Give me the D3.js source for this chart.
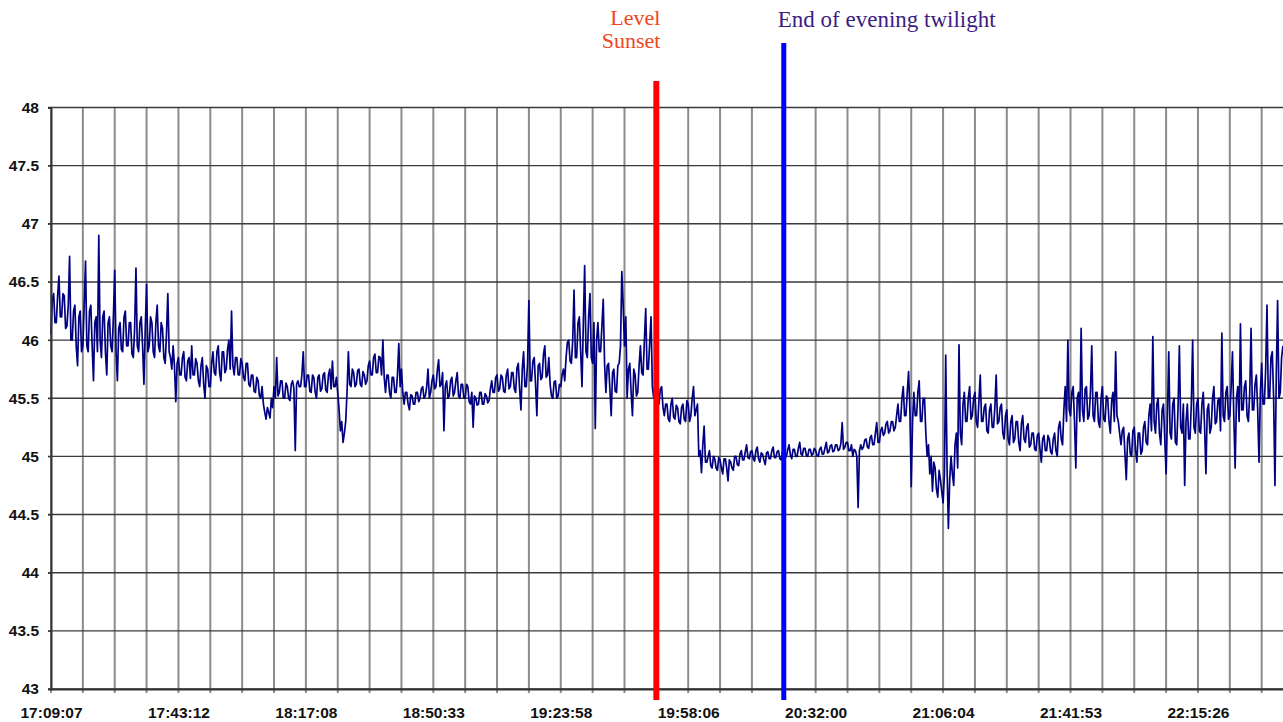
<!DOCTYPE html>
<html>
<head>
<meta charset="utf-8">
<script src="https://cdn.jsdelivr.net/npm/d3@7"></script>
<style>
  html, body { margin: 0; padding: 0; background: #fff; }
  svg { display: block; }
</style>
</head>
<body>
<div id="chart"></div>
<script>
// x-axis category labels, one every 96 samples
const timeLabels = ["17:09:07", "17:43:12", "18:17:08", "18:50:33", "19:23:58",
                    "19:58:06", "20:32:00", "21:06:04", "21:41:53", "22:15:26"];
const yTicks = [43, 43.5, 44, 44.5, 45, 45.5, 46, 46.5, 47, 47.5, 48];

// readings, split by the labelled intervals
const seg1709 = [46.05,46.35,46.4,46.15,46.15,46.38,46.55,46.2,46.2,46.4,46.38,46.1,46.12,46.3,46.72,46.0,
  46.0,46.25,46.3,45.95,45.78,46.2,46.25,45.9,45.95,46.3,46.68,45.95,45.9,46.25,46.3,45.95,
  45.65,46.15,46.2,45.9,46.9,46.0,45.85,46.2,46.25,45.9,45.7,46.15,46.2,45.95,45.9,46.2,
  46.6,45.9,45.65,46.1,46.15,45.92,45.9,46.2,46.25,45.95,45.95,46.15,46.15,45.88,45.85,46.1,
  46.62,45.95,45.9,46.15,46.2,45.95,45.62,46.1,46.48,45.9,45.95,46.2,46.15,45.9,45.85,46.15,
  46.3,45.95,45.9,46.15,46.1,45.85,45.8,46.05,46.4,45.9,45.85,45.75,45.95,45.78,45.47,45.8];
const seg1743 = [45.85,45.7,45.7,45.85,45.9,45.68,45.65,45.82,45.85,45.67,45.95,45.7,45.7,45.84,45.8,45.65,
  45.6,45.78,45.85,45.62,45.5,45.78,45.75,45.6,45.6,45.8,45.9,45.72,45.7,45.9,45.95,45.72,
  45.65,45.9,45.9,45.72,45.75,45.92,46.0,45.75,46.25,45.78,45.7,45.85,45.85,45.7,45.7,45.84,
  45.8,45.68,45.65,45.8,45.8,45.62,45.6,45.7,45.7,45.56,45.55,45.68,45.65,45.52,45.5,45.6,
  45.45,45.38,45.32,45.42,45.38,45.33,45.5,45.42,45.6,45.5,45.85,45.52,45.55,45.65,45.65,45.5,
  45.5,45.63,45.6,45.5,45.48,45.62,45.65,45.58,45.05,45.62,45.65,45.6,45.6,45.7,45.9,45.6];
const seg1817 = [45.6,45.7,45.7,45.56,45.55,45.7,45.68,45.55,45.5,45.68,45.7,45.56,45.58,45.7,45.72,45.57,
  45.55,45.7,45.75,45.58,45.82,45.6,45.6,45.68,45.55,45.4,45.22,45.3,45.12,45.2,45.3,45.55,
  45.9,45.62,45.6,45.75,45.72,45.6,45.62,45.74,45.75,45.62,45.6,45.73,45.7,45.62,45.65,45.78,
  45.82,45.7,45.7,45.85,45.88,45.72,45.72,45.86,45.85,45.7,46.0,45.68,45.55,45.7,45.7,45.55,
  45.5,45.68,45.68,45.55,45.55,45.7,45.97,45.6,45.75,45.55,45.45,45.55,45.55,45.45,45.4,45.53,
  45.52,45.45,45.45,45.55,45.55,45.47,45.5,45.58,45.6,45.5,45.52,45.6,45.75,45.5,45.55,45.65];
const seg1850 = [45.7,45.58,45.6,45.74,45.83,45.6,45.62,45.72,45.22,45.6,45.65,45.5,45.52,45.65,45.68,45.52,
  45.55,45.65,45.72,45.52,45.5,45.62,45.62,45.5,45.5,45.62,45.6,45.47,45.45,45.55,45.25,45.52,
  45.5,45.44,45.45,45.55,45.55,45.45,45.45,45.54,45.52,45.46,45.48,45.58,45.65,45.55,45.55,45.68,
  45.7,45.56,45.58,45.7,45.68,45.56,45.55,45.7,45.75,45.58,45.6,45.72,45.72,45.58,45.55,45.76,
  45.8,45.58,45.4,45.75,45.9,45.6,45.6,45.8,46.34,45.65,45.65,45.82,45.85,45.62,45.35,45.78,
  45.8,45.66,45.68,45.88,45.95,45.68,45.7,45.85,45.62,45.52,45.5,45.64,45.65,45.5,45.52,45.62];
const seg1923 = [45.6,45.7,45.75,45.65,45.85,45.98,46.0,45.82,45.8,46.0,46.43,45.85,45.85,46.15,46.2,45.9,
  45.6,46.15,46.64,45.9,45.85,46.2,46.4,45.85,45.8,46.15,45.24,46.0,46.15,45.9,45.9,46.12,
  46.35,45.8,45.55,45.78,45.8,45.58,45.35,45.72,45.75,45.56,45.55,45.78,45.8,45.95,46.59,46.3,
  45.95,46.2,45.5,45.75,45.8,45.55,45.35,45.75,45.7,45.52,45.55,45.78,45.95,45.72,45.7,46.0,
  46.27,45.75,45.75,45.98,46.2,45.6,45.5,45.62,45.65,45.48,45.45,45.58,45.6,45.42,45.35,45.45,
  45.45,45.32,45.3,45.45,45.5,45.34,45.32,45.44,45.42,45.3,45.28,45.42,45.45,45.32,45.3,45.48];
const seg1958 = [45.45,45.3,45.35,45.5,45.6,45.35,45.4,45.45,45.0,45.05,44.86,45.1,45.26,44.95,44.95,45.0,
  45.05,44.92,44.9,45.0,44.98,44.9,44.88,44.99,44.97,44.9,44.85,44.98,44.98,44.9,44.79,44.97,
  44.95,44.9,44.88,45.0,45.0,44.93,44.92,45.02,45.05,44.97,44.97,45.04,45.1,44.99,44.98,45.04,
  45.05,44.98,44.96,45.05,45.08,44.98,44.95,45.03,45.02,44.97,44.93,45.03,45.04,44.98,44.98,45.05,
  45.08,44.99,44.99,45.04,45.05,44.98,44.97,45.04,45.03,44.99,45.0,45.06,45.1,45.01,44.98,45.06,
  45.06,45.0,45.0,45.07,45.12,45.02,45.01,45.07,45.07,45.01,45.0,45.06,45.06,45.01,45.02,45.07];
const seg2032 = [45.05,45.01,45.0,45.06,45.08,45.02,45.02,45.07,45.12,45.03,45.04,45.09,45.1,45.04,45.05,45.1,
  45.1,45.05,45.06,45.11,45.29,45.06,45.08,45.12,45.12,45.05,45.05,45.1,45.0,45.06,45.05,45.0,
  44.56,45.05,45.1,45.06,45.08,45.14,45.15,45.08,45.07,45.16,45.18,45.1,45.1,45.2,45.29,45.12,
  45.12,45.22,45.25,45.18,45.2,45.28,45.3,45.2,45.22,45.3,45.3,45.22,45.25,45.35,45.45,45.3,
  45.3,45.5,45.6,45.35,45.35,45.55,45.73,45.4,44.74,45.3,45.55,45.35,45.35,45.55,45.65,45.3,
  45.3,45.5,45.5,45.2,45.0,45.1,44.85,45.0,44.7,44.95,44.9,44.72,44.65,44.88,44.8,44.7];
const seg2106 = [44.6,44.85,45.87,44.9,44.38,44.8,45.0,44.85,44.75,45.1,45.2,44.9,45.96,45.2,45.1,45.45,
  45.55,45.3,45.3,45.5,45.6,45.32,45.35,45.5,45.55,45.3,45.25,45.48,45.7,45.3,45.3,45.42,
  45.45,45.22,45.2,45.4,45.45,45.25,45.25,45.42,45.7,45.28,45.3,45.42,45.45,45.2,45.15,45.35,
  45.4,45.15,45.1,45.3,45.35,45.12,45.15,45.3,45.3,45.12,45.05,45.28,45.35,45.15,45.12,45.25,
  45.28,45.08,45.1,45.2,45.2,45.06,45.05,45.18,45.2,45.06,44.95,45.15,45.18,45.05,45.05,45.18,
  45.15,45.04,45.02,45.15,45.2,45.05,45.0,45.25,45.3,45.15,45.1,45.4,45.6,45.3,46.0,45.4];
const seg2141 = [45.35,45.55,45.6,45.3,44.9,45.5,45.55,45.3,46.1,45.4,45.3,45.58,45.6,45.32,45.35,45.55,
  45.95,45.35,45.3,45.55,45.55,45.3,45.25,45.5,45.6,45.32,45.3,45.52,45.5,45.3,45.2,45.48,
  45.55,45.3,45.9,45.35,45.3,45.2,45.1,45.22,45.25,45.02,44.8,45.15,45.2,45.02,45.0,45.22,
  45.25,45.05,44.95,45.2,45.2,45.02,45.05,45.25,45.3,45.12,45.1,45.35,45.45,45.22,46.03,45.3,
  45.2,45.45,45.5,45.2,45.1,45.4,45.45,45.15,44.85,45.35,45.9,45.2,45.15,45.45,45.5,45.12,
  45.1,45.42,45.95,45.25,45.2,45.45,44.75,45.3,45.45,45.15,45.15,45.45,46.0,45.25,45.2,45.45];
const seg2215 = [45.5,45.22,45.2,45.45,45.55,45.25,44.85,45.4,45.45,45.2,45.25,45.5,45.6,45.28,45.3,45.48,
  45.5,45.22,46.06,45.35,45.3,45.55,45.6,45.32,45.35,45.6,45.9,45.35,44.9,45.5,45.6,45.3,
  46.14,45.4,45.4,45.6,45.65,45.35,45.3,45.55,46.1,45.4,45.4,45.62,45.7,45.4,44.95,45.55,
  45.8,45.45,45.45,45.75,46.3,45.5,45.5,45.85,45.9,45.5,44.75,45.7,46.34,45.5,45.55,45.85,45.95];

// markers, as sample index
const events = [
  { name: "sunset", index: 456, lines: ["Level", "Sunset"] },
  { name: "twilight", index: 552, lines: ["End of evening twilight"] }
];

const readings = [].concat(seg1709, seg1743, seg1817, seg1850, seg1923,
                           seg1958, seg2032, seg2106, seg2141, seg2215);

const width = 1283, height = 722;
const left_margin = 51;
const samplesPerLabel = 96, samplesPerGrid = 24;
const pxPerSample = 1.3275;

const svg = d3.select("#chart").append("svg")
  .attr("width", width)
  .attr("height", height);

const x = d3.scaleLinear()
  .domain([0, readings.length - 1])
  .range([left_margin, left_margin + (readings.length - 1) * pxPerSample]);

const y = d3.scaleLinear()
  .domain([43, 48])
  .range([689, 107.5]);

// vertical gridlines (with small ticks below the axis)
const gridIdx = d3.range(0, readings.length, samplesPerGrid);
svg.append("g")
  .selectAll("line")
  .data(gridIdx)
  .enter()
  .append("line")
  .attr("x1", d => x(d)).attr("x2", d => x(d))
  .attr("y1", y(48)).attr("y2", y(43) + 4)
  .attr("stroke", "#8c8c8c")
  .attr("stroke-width", 2);

// horizontal gridlines
svg.append("g")
  .selectAll("line")
  .data(yTicks)
  .enter()
  .append("line")
  .attr("x1", left_margin - 3).attr("x2", width)
  .attr("y1", d => y(d)).attr("y2", d => y(d))
  .attr("stroke", "#3a3a3a")
  .attr("stroke-width", 1.4);

// data line
const line = d3.line()
  .x((d, i) => x(i))
  .y(d => y(d));

svg.append("path")
  .datum(readings)
  .attr("d", line)
  .attr("fill", "none")
  .attr("stroke", "#000080")
  .attr("stroke-width", 1.7)
  .attr("stroke-linejoin", "round");

// axes
const yAxis = svg.append("g")
  .attr("transform", `translate(${left_margin},0)`)
  .call(d3.axisLeft(y).tickValues(yTicks).tickFormat(d3.format("")).tickSize(3).tickPadding(9));
yAxis.select(".domain").attr("stroke", "#333").attr("stroke-width", 2);
yAxis.selectAll("text")
  .style("font-family", "'Liberation Sans', Arial, sans-serif")
  .style("font-weight", "bold")
  .style("font-size", "15.5px")
  .attr("fill", "#111");
yAxis.selectAll(".tick line").attr("stroke", "#333");

const labelIdx = timeLabels.map((d, i) => i * samplesPerLabel);
const xAxis = svg.append("g")
  .attr("transform", `translate(0,${y(43)})`)
  .call(d3.axisBottom(x).tickValues(labelIdx).tickFormat((d, i) => timeLabels[i]).tickSize(0).tickPadding(18));
xAxis.select(".domain").attr("stroke", "#333").attr("stroke-width", 2.2);
xAxis.selectAll("text")
  .style("font-family", "'Liberation Sans', Arial, sans-serif")
  .style("font-weight", "bold")
  .style("font-size", "15.5px")
  .attr("fill", "#111");

// event markers
const markerStyle = {
  sunset: { color: "#ff0000", text: "#f0461e", width: 6, top: 81, anchor: "end", dx: 4, size: 22, y0: 25, gap: 23 },
  twilight: { color: "#0000ff", text: "#3b1d82", width: 5, top: 43, anchor: "start", dx: -6, size: 23, y0: 27, gap: 24 }
};

events.forEach(ev => {
  const st = markerStyle[ev.name];
  svg.append("line")
    .attr("x1", x(ev.index)).attr("x2", x(ev.index))
    .attr("y1", st.top).attr("y2", 700)
    .attr("stroke", st.color)
    .attr("stroke-width", st.width);

  const txt = svg.append("text")
    .attr("text-anchor", st.anchor)
    .style("font-family", "'Liberation Serif', 'Times New Roman', serif")
    .style("font-size", st.size + "px")
    .attr("fill", st.text);
  ev.lines.forEach((l, i) => {
    txt.append("tspan")
      .attr("x", x(ev.index) + st.dx)
      .attr("y", st.y0 + i * st.gap)
      .text(l);
  });
});
</script>
</body>
</html>
